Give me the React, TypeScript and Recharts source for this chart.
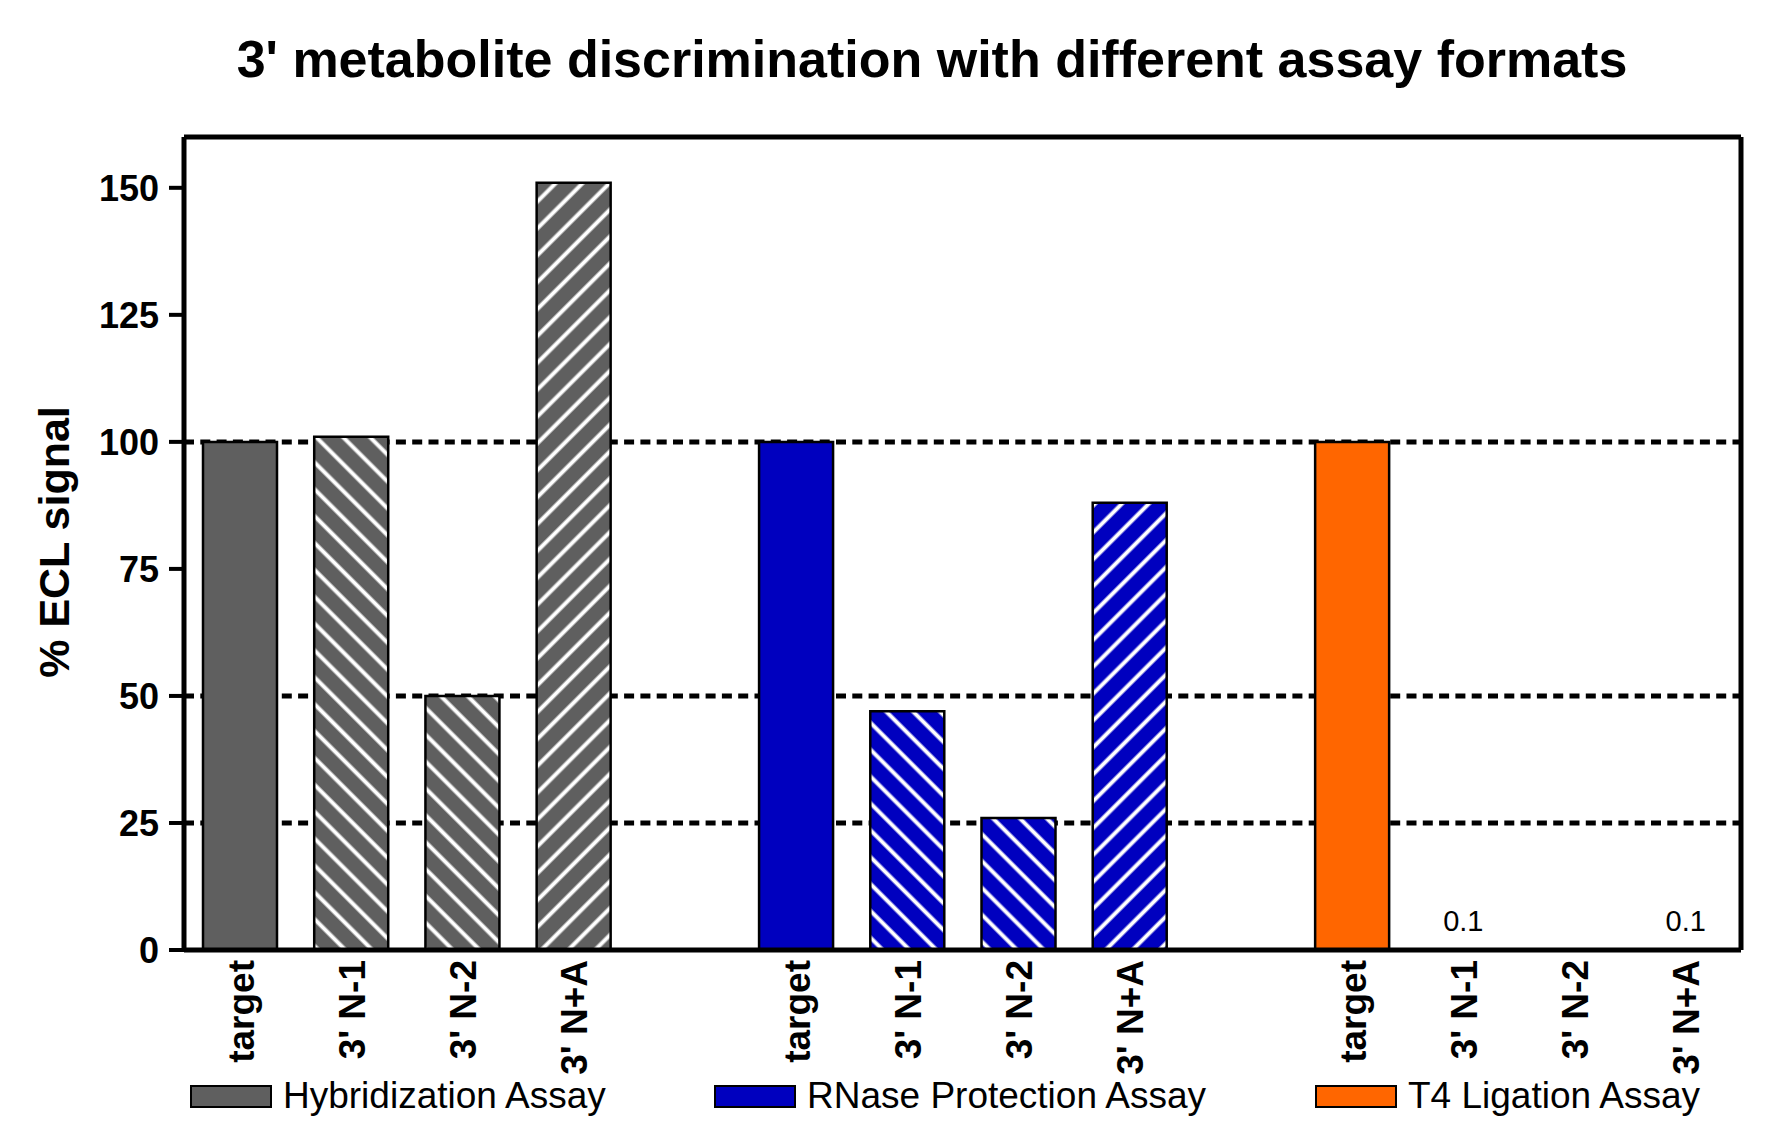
import { BarChart, Bar, XAxis, YAxis, CartesianGrid, Cell, LabelList, Legend } from "recharts";

/** --- Data --- */
const assays = ["Hybridization Assay", "RNase Protection Assay", "T4 Ligation Assay"];
const assayColors = ["#5f5f5f", "#0000bf", "#ff6600"];
const metabolites = ["target", "3' N-1", "3' N-2", "3' N+A"];

const hybridization = [100, 101, 50, 151];
const rnaseProtection = [100, 47, 26, 88];
const t4Ligation = [100, 0.1, 0, 0.1];

const yTicks = [0, 25, 50, 75, 100, 125, 150];
const gridValues = [25, 50, 100];

const FONT = "'Liberation Sans', Arial, sans-serif";

type Row = {
  key: string;
  label: string;
  value: number | null;
  assay: number;
  metabolite: number;
};

// one slot per bar, with an empty slot between the assay groups
const seriesValues = [hybridization, rnaseProtection, t4Ligation];
const rows: Row[] = [];
seriesValues.forEach((vals, a) => {
  vals.forEach((v, m) => {
    rows.push({ key: `${a}-${m}`, label: metabolites[m], value: v, assay: a, metabolite: m });
  });
  if (a < seriesValues.length - 1) {
    rows.push({ key: `gap-${a}`, label: "", value: null, assay: a, metabolite: -1 });
  }
});

const labelByKey: Record<string, string> = {};
rows.forEach((r) => (labelByKey[r.key] = r.label));

// stripe direction: target solid, N-1 / N-2 "\" , N+A "/"
const fillFor = (r: Row) => {
  if (r.metabolite < 0) return "none";
  if (r.metabolite === 0) return assayColors[r.assay];
  if (r.metabolite === 3) return `url(#fwd-${r.assay})`;
  return `url(#back-${r.assay})`;
};

const XTick = (props: any) => {
  const { x, y, payload } = props;
  const text = labelByKey[payload?.value] ?? "";
  if (!text) return null;
  const ty = y + 2;
  return (
    <text
      x={x}
      y={ty}
      transform={`rotate(-90, ${x}, ${ty})`}
      textAnchor="end"
      dy="0.38em"
      fontFamily={FONT}
      fontWeight="bold"
      fontSize={37}
      fill="#000"
    >
      {text}
    </text>
  );
};

const SmallValue = (props: any) => {
  const { x, y, width, value } = props;
  if (value == null || value <= 0 || value >= 1) return null;
  return (
    <text
      x={Number(x) + Number(width) / 2}
      y={Number(y) - 18}
      textAnchor="middle"
      fontFamily={FONT}
      fontSize={29}
      fill="#000"
    >
      {value}
    </text>
  );
};

const YTitle = () => (
  <text
    x={69}
    y={542}
    transform="rotate(-90, 69, 542)"
    textAnchor="middle"
    fontFamily={FONT}
    fontWeight="bold"
    fontSize={43}
    fill="#000"
  >
    % ECL signal
  </text>
);

const legendLefts = [190, 714, 1315];

const LegendContent = () => (
  <div style={{ position: "relative", width: 1774, height: 40 }}>
    {assays.map((name, i) => (
      <div
        key={name}
        style={{
          position: "absolute",
          left: legendLefts[i],
          top: 0,
          display: "flex",
          alignItems: "center",
          whiteSpace: "nowrap",
        }}
      >
        <div
          style={{
            width: 78,
            height: 19,
            background: assayColors[i],
            border: "2px solid #000",
          }}
        />
        <span
          style={{
            marginLeft: 11,
            fontFamily: FONT,
            fontSize: 37,
            lineHeight: "40px",
            color: "#000",
          }}
        >
          {name}
        </span>
      </div>
    ))}
  </div>
);

export default function App() {
  return (
    <div
      style={{
        position: "absolute",
        left: 0,
        top: 0,
        width: 1774,
        height: 1140,
        background: "#fff",
      }}
    >
      <div
        style={{
          position: "absolute",
          left: 932,
          top: 33,
          transform: "translateX(-50%)",
          whiteSpace: "nowrap",
          fontFamily: FONT,
          fontWeight: "bold",
          fontSize: 52,
          lineHeight: "52px",
          color: "#000",
        }}
      >
        3' metabolite discrimination with different assay formats
      </div>
      <BarChart
        width={1774}
        height={1140}
        data={rows}
        margin={{ top: 136, right: 32, bottom: 0, left: 84 }}
        style={{ position: "absolute", left: 0, top: 0 }}
      >
        <defs>
          {assayColors.map((c, i) => (
            <pattern
              key={`fwd-${i}`}
              id={`fwd-${i}`}
              patternUnits="userSpaceOnUse"
              width={19}
              height={19}
              patternTransform="rotate(45)"
            >
              <rect width={19} height={19} fill={c} />
              <line x1={9.5} y1={0} x2={9.5} y2={19} stroke="#fff" strokeWidth={4} />
            </pattern>
          ))}
          {assayColors.map((c, i) => (
            <pattern
              key={`back-${i}`}
              id={`back-${i}`}
              patternUnits="userSpaceOnUse"
              width={19}
              height={19}
              patternTransform="rotate(-45)"
            >
              <rect width={19} height={19} fill={c} />
              <line x1={9.5} y1={0} x2={9.5} y2={19} stroke="#fff" strokeWidth={4} />
            </pattern>
          ))}
        </defs>

        <CartesianGrid
          horizontal
          vertical={false}
          horizontalValues={gridValues}
          stroke="#000"
          strokeWidth={5}
          strokeDasharray="10 6.3"
        />

        <XAxis
          dataKey="key"
          height={190}
          interval={0}
          tickLine={false}
          axisLine={{ stroke: "#000", strokeWidth: 5 }}
          tick={<XTick />}
        />
        <XAxis
          xAxisId="top"
          orientation="top"
          dataKey="key"
          height={1}
          tick={false}
          tickLine={false}
          axisLine={{ stroke: "#000", strokeWidth: 5 }}
        />
        <YAxis
          type="number"
          domain={[0, 160]}
          ticks={yTicks}
          width={100}
          tickSize={15}
          tickMargin={10}
          tickLine={{ stroke: "#000", strokeWidth: 4 }}
          axisLine={{ stroke: "#000", strokeWidth: 5 }}
          tick={{ fontFamily: FONT, fontWeight: "bold", fontSize: 36, fill: "#000" }}
          label={<YTitle />}
        />
        <YAxis
          yAxisId="right"
          orientation="right"
          type="number"
          domain={[0, 160]}
          width={1}
          tick={false}
          tickLine={false}
          axisLine={{ stroke: "#000", strokeWidth: 5 }}
        />

        <Legend
          verticalAlign="middle"
          align="center"
          layout="horizontal"
          content={<LegendContent />}
          wrapperStyle={{ top: 1076, left: 0, width: 1774, height: 40 }}
        />

        <Bar dataKey="value" barSize={74} stroke="#000" strokeWidth={2.5} isAnimationActive={false}>
          {rows.map((r) => (
            <Cell key={r.key} fill={fillFor(r)} />
          ))}
          <LabelList dataKey="value" content={<SmallValue />} />
        </Bar>
      </BarChart>
    </div>
  );
}
